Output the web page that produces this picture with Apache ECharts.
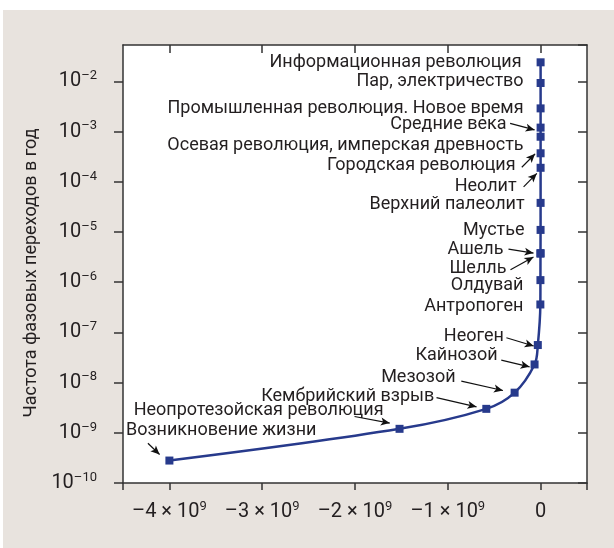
<!DOCTYPE html>
<html>
<head>
<meta charset="utf-8">
<script src="https://cdn.jsdelivr.net/npm/echarts@6/dist/echarts.min.js"></script>
<style>
html, body { margin: 0; padding: 0; background: #fff; }
#chart { position: absolute; left: 3px; top: 10px; width: 611px; height: 538px; }
</style>
</head>
<body>
<div id="chart"></div>
<script>
// события и их частоты фазовых переходов
const names = [
    'Возникновение жизни', 'Неопротезойская революция', 'Кембрийский взрыв', 'Мезозой',
    'Кайнозой', 'Неоген', 'Антропоген', 'Олдувай', 'Шелль', 'Ашель', 'Мустье',
    'Верхний палеолит', 'Неолит', 'Городская революция',
    'Осевая революция, имперская древность', 'Средние века',
    'Промышленная революция. Новое время', 'Пар, электричество', 'Информационная революция'
];
const years = [
    -4.0e9, -1.52e9, -0.585e9, -0.28e9, -0.065e9, -0.03e9, -2.6e6, -1.8e6, -1.2e6, -1.0e6,
    -3.0e5, -4.0e4, -1.0e4, -5.0e3, -2.5e3, -1.5e3, -300, -150, -40
];
const freq = [
    2.8e-10, 1.2e-9, 3.0e-9, 6.3e-9, 2.3e-8, 5.6e-8, 3.6e-7, 1.1e-6, 3.7e-6, 3.8e-6,
    1.1e-5, 3.8e-5, 1.9e-4, 3.7e-4, 7.9e-4, 1.2e-3, 2.9e-3, 9.3e-3, 2.4e-2
];
const xTicks = [-4e9, -3e9, -2e9, -1e9, 0];

// сдвиг подписи от точки: [dx до правого края, dy до середины], px
const labelShift = [
    [147, -30], [-16, -18], [-52, -12], [-59, -15], [-37, -9], [-34, -9], [-17, 2.5],
    [-17, 5], [-34, 15], [-37, -4], [-16, 0.7], [-16, 1.3], [-24, 19], [-25, 12.5],
    [-17, 9], [-34, -3], [-17, 0], [-17, -1], [-19, 0]
];
// стрелки: [хвост dx, dy, острие dx, dy] от точки, px
const arrows = [
    [-21.5, -17.3, -9.8, -6], [-45, -12.3, -9.8, -5.7], [-49.8, -11.3, -9.8, -2],
    [-53.3, -11.5, -11.7, -2.2], [-33.3, -4.3, -5, 2.4], [-31.4, -7.3, -4.1, 1],
    null, null, [-30, 16, -7, 3.4], [-32, -4, -7, 0], null, null,
    [-17, 19, -3.8, 5.6], [-18.8, 14, -5.5, 0.6], null, [-30.5, -4.3, -6, 2.3],
    null, null, null
];

const FONT = 'Roboto, "Liberation Sans", sans-serif';
const TEXT = '#231f20';
const BLUE = '#273a8c';
const AXIS = '#333';

const chart = echarts.init(document.getElementById('chart'));

const supRich = {
    b: { fontFamily: FONT, fontSize: 20, color: TEXT, lineHeight: 24 },
    s: { fontFamily: FONT, fontSize: 13, color: TEXT, verticalAlign: 'top', lineHeight: 14 }
};

const seriesData = years.map((x, i) => ({
    value: [x, Math.log10(freq[i])],
    label: {
        show: true,
        position: 'left',
        distance: 0,
        offset: [labelShift[i][0] + 4, labelShift[i][1]],
        formatter: names[i]
    }
}));

const option = {
    animation: false,
    backgroundColor: '#e8e3de',
    grid: {
        left: 120, right: 27, top: 35, bottom: 65,
        show: true, backgroundColor: '#fff', borderWidth: 0
    },
    xAxis: [
        {
            type: 'value', min: -4.5e9, max: 0.5e9, position: 'bottom',
            axisLine: { show: true, onZero: false, lineStyle: { color: AXIS, width: 1.5 } },
            axisTick: { show: true, length: 7, lineStyle: { color: AXIS, width: 1.5 },
                customValues: [-4.5e9, ...xTicks, 0.5e9] },
            axisLabel: {
                customValues: xTicks, margin: 17, color: TEXT,
                formatter: v => v === 0 ? '{b|0}' : '{b|–' + Math.abs(v / 1e9) + ' × 10}{s|9}',
                rich: supRich
            },
            splitLine: { show: false }
        },
        {
            type: 'value', min: -4.5e9, max: 0.5e9, position: 'top',
            axisLine: { show: true, onZero: false, lineStyle: { color: AXIS, width: 1.5 } },
            axisTick: { show: true, inside: true, length: 8, lineStyle: { color: AXIS, width: 1.5 },
                customValues: xTicks },
            axisLabel: { show: false },
            splitLine: { show: false }
        }
    ],
    yAxis: [
        {
            type: 'value', min: -10, max: -1.275, interval: 1, position: 'left',
            name: 'Частота фазовых переходов в год',
            nameLocation: 'middle', nameGap: 82,
            nameTextStyle: { fontFamily: FONT, fontSize: 18, color: TEXT, padding: [0, 18, 0, 0] },
            axisLine: { show: true, onZero: false, lineStyle: { color: AXIS, width: 1.5 } },
            axisTick: { show: true, length: 9, lineStyle: { color: AXIS, width: 1.5 } },
            axisLabel: {
                margin: 26, color: TEXT, showMaxLabel: false,
                formatter: v => Number.isInteger(v) ? '{b|10}{s|–' + (-v) + '}' : '',
                rich: supRich
            },
            splitLine: { show: false }
        },
        {
            type: 'value', min: -10, max: -1.275, interval: 1, position: 'right',
            axisLine: { show: true, onZero: false, lineStyle: { color: AXIS, width: 1.5 } },
            axisTick: { show: true, inside: true, length: 9, lineStyle: { color: AXIS, width: 1.5 } },
            axisLabel: { show: false },
            splitLine: { show: false }
        }
    ],
    series: [{
        type: 'line',
        data: seriesData,
        smooth: 0.35,
        symbol: 'rect',
        symbolSize: 8,
        showAllSymbol: true,
        lineStyle: { color: BLUE, width: 2.5 },
        itemStyle: { color: BLUE },
        label: { fontFamily: FONT, fontSize: 18, color: TEXT, align: 'right', verticalAlign: 'middle' },
        emphasis: { disabled: true }
    }]
};

chart.setOption(option);

// стрелки к точкам
const arrowLines = [];
years.forEach((x, i) => {
    const a = arrows[i];
    if (!a) return;
    const p = chart.convertToPixel({ seriesIndex: 0 }, [x, Math.log10(freq[i])]);
    arrowLines.push([
        { x: p[0] + a[0], y: p[1] + a[1] },
        { x: p[0] + a[2], y: p[1] + a[3] }
    ]);
});

chart.setOption({
    series: [{
        markLine: {
            silent: true,
            symbol: ['none', 'arrow'],
            symbolSize: [6, 9],
            label: { show: false },
            lineStyle: { color: '#111', width: 1.2, type: 'solid' },
            data: arrowLines
        }
    }]
});
</script>
</body>
</html>
